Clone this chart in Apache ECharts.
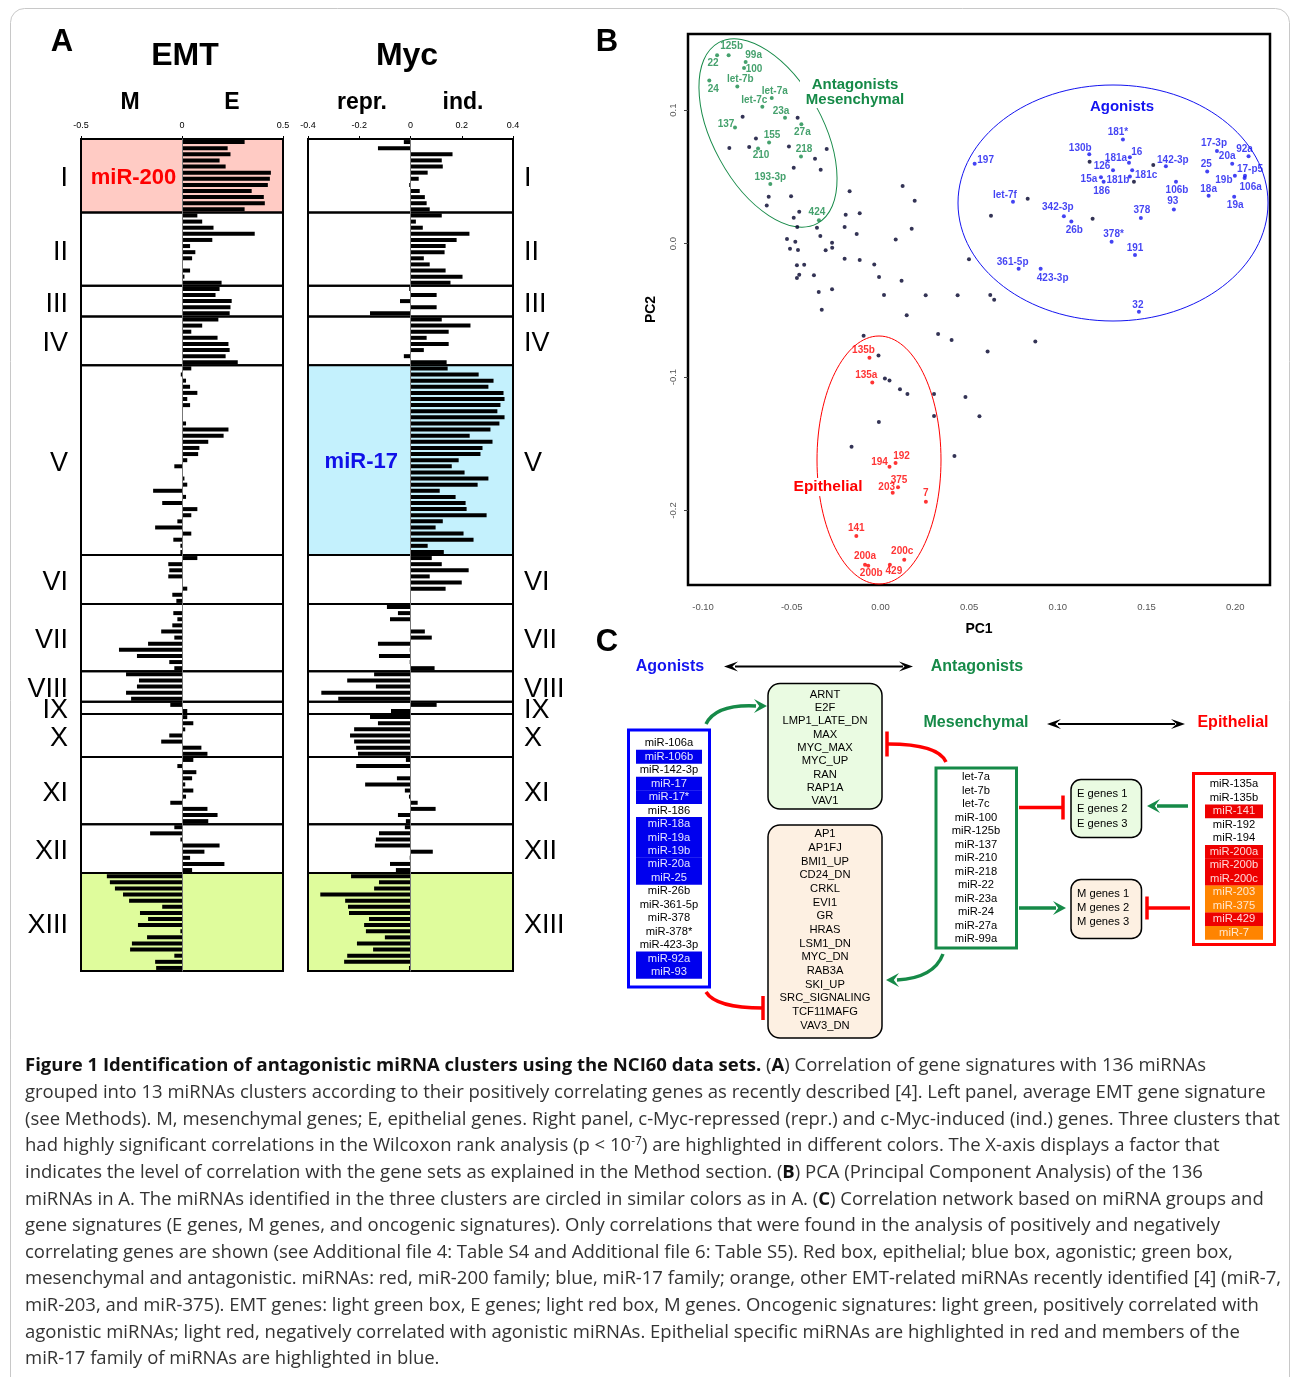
<!DOCTYPE html>
<html>
<head>
<meta charset="utf-8">
<script src="https://cdn.jsdelivr.net/npm/echarts@6/dist/echarts.min.js"></script>
<style>
  html, body { margin: 0; padding: 0; background: #fff; }
  #chart { width: 1290px; height: 1377px; }
</style>
</head>
<body>
<div id="chart"></div>
<script>
// ---- panel A data: 13 clusters, 136 miRNAs ----
const clusterNames = ['I', 'II', 'III', 'IV', 'V', 'VI', 'VII', 'VIII', 'IX', 'X', 'XI', 'XII', 'XIII']
const clusterSizes = [12, 12, 5, 8, 31, 8, 11, 5, 2, 7, 11, 8, 16]

const emtValues = [
  0.31, 0.226, 0.24, 0.186, 0.216, 0.44, 0.435, 0.425, 0.345, 0.405, 0.41, 0.31,
  0.076, 0.10, 0.156, 0.36, 0.15, 0.04, 0.066, 0.05, 0, 0.04, 0.012, 0.196,
  0.186, 0.166, 0.246, 0.24, 0.236,
  0.18, 0.10, 0.046, 0.176, 0.23, 0.236, 0.216, 0.276,
  0.046, -0.006, 0.02, 0.04, 0.076, 0.026, 0.04, 0, 0, 0.02, 0.23, 0.206, 0.13, 0.086, 0.08, 0.026,
  -0.038, 0, 0.012, 0.026, -0.143, 0.02, -0.098, 0.076, 0.046, -0.023, -0.133, 0.046, -0.043, -0.008, -0.008,
  0.076, -0.068, -0.063, -0.068, 0, 0.026, -0.048, -0.028,
  0, -0.043, -0.023, -0.048, -0.103, -0.038, -0.168, -0.312, -0.223, -0.063, -0.038,
  -0.277, -0.213, -0.223, -0.277, -0.252,
  -0.058, 0.026,
  0.026, 0.056, 0.016, -0.063, -0.103, 0.096, 0.126,
  0.056, -0.023, 0.071, 0.05, 0.016, 0.056, 0.02, -0.058, 0.126, 0.176, 0.13,
  -0.038, -0.158, -0.008, 0.186, 0.111, 0.04, 0.21, 0.05,
  -0.372, -0.357, -0.332, -0.292, -0.262, -0.098, -0.208, -0.168, -0.218, -0.008, -0.173, -0.248, -0.257, -0.038, -0.133, -0.128
]

const mycValues = [
  -0.026, -0.127, 0.164, 0.122, 0.126, 0.067, 0.032, -0.005, 0.036, 0.056, 0.063, 0.075,
  0.122, 0.021, 0.048, 0.23, 0.18, 0.137, 0.133, 0.052, 0.075, 0.137, 0.203, 0.156,
  -0.005, 0.102, -0.041, 0.102, -0.158,
  0.122, 0.234, 0.149, 0.063, 0.149, 0.052, -0.026, 0.141,
  0.145, 0.266, 0.324, 0.304, 0.363, 0.367, 0.351, 0.339, 0.367, 0.347, 0.312, 0.231, 0.32, 0.281, 0.273, 0.188,
  0.161, 0.211, 0.304, 0.262, 0.114, 0.176, 0.215, 0.219, 0.297, 0.126, 0.098, 0.207, 0.246, 0.067, 0.13,
  0.083, 0.122, 0.227, 0.075, 0.2, 0.137, 0, 0,
  -0.092, -0.049, -0.08, 0, 0.056, 0.083, -0.127, -0.003, -0.123, -0.003, 0.094,
  -0.142, -0.247, -0.135, -0.348, -0.282,
  0.102, -0.076,
  -0.158, -0.127, -0.22, -0.236, -0.22, -0.212, -0.205,
  -0.018, -0.212, 0.001, -0.053, -0.177, -0.022, -0.006, 0.028, 0.098, -0.049, -0.018,
  -0.022, -0.123, -0.135, -0.139, 0.087, -0.003, -0.08, -0.057,
  -0.232, -0.123, -0.142, -0.352, -0.255, -0.244, -0.24, -0.162, -0.181, -0.174, -0.1, -0.209, -0.146, -0.247, -0.259, -0.006
]

// ---- panel B data: PCA of the 136 miRNAs [PC1, PC2] ----
const pcaOther = [
  [-0.0777, 0.095], [-0.0702, 0.0788], [-0.0852, 0.0715], [-0.074, 0.0723], [-0.0467, 0.0942], [-0.0516, 0.0728],
  [-0.0303, 0.0708], [-0.0369, 0.0635], [-0.0489, 0.0568], [-0.0337, 0.0553], [-0.063, 0.0351], [-0.0504, 0.0354],
  [-0.0641, 0.0286], [-0.0458, 0.0238], [-0.0489, 0.0193], [-0.0469, 0.0124], [-0.0358, 0.0118], [-0.0174, 0.0391],
  [0.0125, 0.0431], [0.0193, 0.0321], [-0.0196, 0.0216], [-0.0117, 0.0228], [-0.0202, 0.0124], [-0.0134, 0.0071],
  [0.0176, 0.0111], [0.0086, 0.0031], [-0.0339, 0.0056], [-0.0527, 0.0034], [-0.048, 0.0013], [-0.0273, 0.0006],
  [-0.0272, -0.0031], [-0.0309, -0.0051], [-0.051, -0.0039], [-0.0465, -0.0049], [-0.0202, -0.0114], [-0.0117, -0.0124],
  [-0.0035, -0.0156], [-0.0471, -0.0163], [-0.043, -0.0159], [-0.0375, -0.0238], [-0.0458, -0.0234], [-0.0471, -0.0258],
  [-0.0008, -0.0251], [0.0119, -0.0279], [-0.0273, -0.0343], [-0.0348, -0.0363], [0.002, -0.0386], [0.0255, -0.0388],
  [0.0435, -0.0388], [-0.0331, -0.0496], [0.0148, -0.0538], [0.0499, -0.0118],
  [0.1179, 0.0613], [0.1538, 0.0588], [0.1429, 0.0463], [0.083, 0.0336], [0.0623, 0.0208], [0.1196, 0.0186],
  [0.0619, -0.0386], [0.0641, -0.0421],
  [-0.0095, -0.069], [0.0325, -0.0678], [0.0401, -0.0723], [0.0873, -0.0733], [0.0604, -0.0808], [-0.0011, -0.0838],
  [0.0025, -0.101], [0.0051, -0.1025], [0.011, -0.1092], [0.0152, -0.1127], [0.0302, -0.1127], [0.0479, -0.115],
  [0.0302, -0.1292], [0.0558, -0.1294], [-0.0009, -0.1337], [-0.0163, -0.1522], [0.0417, -0.1592]
]
const pcaAntagonists = [
  ['22', -0.0921, 0.141], ['125b', -0.0856, 0.141], ['99a', -0.076, 0.136], ['100', -0.0769, 0.1315],
  ['24', -0.0965, 0.1222], ['let-7b', -0.0807, 0.1177], ['let-7a', -0.0613, 0.109], ['let-7c', -0.0666, 0.1025],
  ['23a', -0.0538, 0.0942], ['137', -0.082, 0.087], ['27a', -0.0446, 0.0893], ['155', -0.0628, 0.0758],
  ['210', -0.069, 0.0713], ['218', -0.0448, 0.0653], ['193-3p', -0.0621, 0.0446], ['424', -0.0347, 0.0174]
]
const pcaAgonists = [
  ['197', 0.0531, 0.0598], ['181*', 0.1367, 0.078], ['130b', 0.1177, 0.067], ['16', 0.1406, 0.0646],
  ['181a', 0.1401, 0.0605], ['126', 0.1311, 0.055], ['181c', 0.1419, 0.055], ['142-3p', 0.1609, 0.058],
  ['15a', 0.1243, 0.0496], ['186', 0.1258, 0.0463], ['181b', 0.1406, 0.0503], ['17-3p', 0.1897, 0.0693],
  ['92a', 0.2075, 0.0655], ['20a', 0.1983, 0.0598], ['25', 0.1842, 0.054], ['17-p5', 0.2055, 0.0508],
  ['19b', 0.1998, 0.0508], ['106a', 0.2053, 0.0491], ['106b', 0.1666, 0.0463], ['18a', 0.185, 0.0358],
  ['19a', 0.1994, 0.0351], ['93', 0.1654, 0.0256], ['let-7f', 0.0747, 0.0313], ['342-3p', 0.1034, 0.0204],
  ['26b', 0.1076, 0.0166], ['378', 0.1468, 0.0191], ['378*', 0.1303, 0.0014], ['191', 0.1435, -0.0086],
  ['361-5p', 0.0779, -0.0189], ['423-3p', 0.0903, -0.0189], ['32', 0.1457, -0.0511]
]
const pcaEpithelial = [
  ['135b', -0.0062, -0.0855], ['135a', -0.0046, -0.104], ['192', 0.0085, -0.1644], ['194', 0.0051, -0.1672],
  ['375', 0.0099, -0.1826], ['203', 0.0069, -0.1866], ['7', 0.0256, -0.1934], ['141', -0.0136, -0.2191],
  ['200c', 0.0134, -0.2368], ['200a', -0.0087, -0.2406], ['200b', -0.0069, -0.2413], ['429', 0.0053, -0.2406]
]

// ---- panel C data: network lists ----
const agonistMirs = ['miR-106a', 'miR-106b', 'miR-142-3p', 'miR-17', 'miR-17*', 'miR-186', 'miR-18a', 'miR-19a',
  'miR-19b', 'miR-20a', 'miR-25', 'miR-26b', 'miR-361-5p', 'miR-378', 'miR-378*', 'miR-423-3p', 'miR-92a', 'miR-93']
const mir17Family = ['miR-106b', 'miR-17', 'miR-17*', 'miR-18a', 'miR-19a', 'miR-19b', 'miR-20a', 'miR-25', 'miR-92a', 'miR-93']
const antagonistMirs = ['let-7a', 'let-7b', 'let-7c', 'miR-100', 'miR-125b', 'miR-137', 'miR-210', 'miR-218',
  'miR-22', 'miR-23a', 'miR-24', 'miR-27a', 'miR-99a']
const epithelialMirs = ['miR-135a', 'miR-135b', 'miR-141', 'miR-192', 'miR-194', 'miR-200a', 'miR-200b',
  'miR-200c', 'miR-203', 'miR-375', 'miR-429', 'miR-7']
const mir200Family = ['miR-141', 'miR-200a', 'miR-200b', 'miR-200c', 'miR-429']
const otherEmtMirs = ['miR-203', 'miR-375', 'miR-7']
const positiveSigs = ['ARNT', 'E2F', 'LMP1_LATE_DN', 'MAX', 'MYC_MAX', 'MYC_UP', 'RAN', 'RAP1A', 'VAV1']
const negativeSigs = ['AP1', 'AP1FJ', 'BMI1_UP', 'CD24_DN', 'CRKL', 'EVI1', 'GR', 'HRAS', 'LSM1_DN', 'MYC_DN',
  'RAB3A', 'SKI_UP', 'SRC_SIGNALING', 'TCF11MAFG', 'VAV3_DN']
const eGenes = ['E genes 1', 'E genes 2', 'E genes 3']
const mGenes = ['M genes 1', 'M genes 2', 'M genes 3']

const captionLines = [
  '{b|Figure 1 Identification of antagonistic miRNA clusters using the NCI60 data sets.} ({b|A}) Correlation of gene signatures with 136 miRNAs',
  'grouped into 13 miRNAs clusters according to their positively correlating genes as recently described [4]. Left panel, average EMT gene signature',
  '(see Methods). M, mesenchymal genes; E, epithelial genes. Right panel, c-Myc-repressed (repr.) and c-Myc-induced (ind.) genes. Three clusters that',
  'had highly significant correlations in the Wilcoxon rank analysis (p < 10{sup|-7}) are highlighted in different colors. The X-axis displays a factor that',
  'indicates the level of correlation with the gene sets as explained in the Method section. ({b|B}) PCA (Principal Component Analysis) of the 136',
  'miRNAs in A. The miRNAs identified in the three clusters are circled in similar colors as in A. ({b|C}) Correlation network based on miRNA groups and',
  'gene signatures (E genes, M genes, and oncogenic signatures). Only correlations that were found in the analysis of positively and negatively',
  'correlating genes are shown (see Additional file 4: Table S4 and Additional file 6: Table S5). Red box, epithelial; blue box, agonistic; green box,',
  'mesenchymal and antagonistic. miRNAs: red, miR-200 family; blue, miR-17 family; orange, other EMT-related miRNAs recently identified [4] (miR-7,',
  'miR-203, and miR-375). EMT genes: light green box, E genes; light red box, M genes. Oncogenic signatures: light green, positively correlated with',
  'agonistic miRNAs; light red, negatively correlated with agonistic miRNAs. Epithelial specific miRNAs are highlighted in red and members of the',
  'miR-17 family of miRNAs are highlighted in blue.'
]

// ---- styling ----
const FONT = 'Liberation Sans, Arial, sans-serif'
const GREEN = '#168a48'
const BLUE = '#1414f0'
const RED = '#ff0000'
const PINK_FILL = '#ffcbc4'
const BLUE_FILL = '#c4f1fd'
const LIME_FILL = '#dffc9c'
const CAPTION_SIZE = 18.5

// label placement (pixel offset of label centre from its point)
const labelOffset = {
  '22': [-4, 8], '125b': [3, -9], '99a': [8, -7], '100': [10, 1], '24': [4, 9], 'let-7b': [3, -7],
  'let-7a': [3, -7], 'let-7c': [-8, -6], '23a': [-4, -7], '137': [-9, -3], '27a': [1, 8], '155': [3, -7],
  '210': [3, 7], '218': [3, -7], '193-3p': [0, -7], '424': [-2, -8],
  '197': [11, -3], '181*': [-5, -7], '130b': [-9, -6], '16': [7, -5], '181a': [-13, -5], '126': [-11, -4],
  '181c': [14, 5], '142-3p': [7, -6], '15a': [-12, 2], '186': [-2, 9], '181b': [-12, 4], '17-3p': [-3, -8],
  '92a': [-4, -7], '20a': [-5, -7], '25': [-1, -7], '17-p5': [5, -7], '19b': [-11, 4], '106a': [6, 9],
  '106b': [1, 8], '18a': [0, -7], '19a': [1, 9], '93': [-1, -8], 'let-7f': [-8, -7], '342-3p': [-6, -9],
  '26b': [3, 9], '378': [1, -8], '378*': [2, -7], '191': [0, -7], '361-5p': [-6, -7], '423-3p': [12, 9], '32': [-1, -7],
  '135b': [-6, -7], '135a': [-6, -7], '192': [6, -7], '194': [-10, -4], '375': [1, -7], '203': [-6, -5],
  '7': [0, -8], '141': [0, -8], '200c': [-2, -8], '200a': [0, -8], '200b': [3, 8], '429': [4, 7]
}

const chart = echarts.init(document.getElementById('chart'))

// cluster boundaries from sizes
const bounds = [0]
clusterSizes.forEach(n => bounds.push(bounds[bounds.length - 1] + n))
const catNames = emtValues.map((v, i) => 'm' + (i + 1))

const clusterAreas = (fills, side, inner) => {
  const areas = clusterNames.map((nm, i) => [{
    yAxis: bounds[i],
    itemStyle: { color: fills[nm] || 'rgba(0,0,0,0)', borderColor: '#000', borderWidth: 2 },
    label: { show: true, position: side, distance: side === 'left' ? 12 : 10, offset: [0, 3], formatter: nm,
      color: '#000', fontSize: 27, fontFamily: FONT }
  }, { yAxis: bounds[i + 1] }])
  // highlighted cluster name written inside the left half
  areas.push([{
    xAxis: inner.from, yAxis: bounds[inner.idx],
    itemStyle: { color: 'rgba(0,0,0,0)', borderWidth: 0 },
    label: { show: true, position: 'inside', offset: [2, 2], formatter: inner.text, color: inner.color,
      fontSize: 22, fontWeight: 'bold', fontFamily: FONT }
  }, { xAxis: 0, yAxis: bounds[inner.idx + 1] }])
  return areas
}

const barAxisX = (idx, min, max, interval) => ({
  type: 'value', gridIndex: idx, position: 'top', min, max, interval,
  axisLine: { show: false, onZero: false },
  axisTick: { show: true, length: 3, lineStyle: { color: '#000' } },
  axisLabel: { fontSize: 9, color: '#000', margin: 9, fontFamily: FONT },
  splitLine: { show: false }
})

const pcaSeries = (list, color) => ({
  type: 'scatter', xAxisIndex: 2, yAxisIndex: 4, symbolSize: 4, z: 4,
  itemStyle: { color },
  data: list.map(p => {
    const off = labelOffset[p[0]] || [0, -7]
    return { name: p[0], value: [p[1], p[2]], label: { position: [2 + off[0], 2 + off[1]] } }
  }),
  label: { show: true, formatter: '{b}', color, fontSize: 10, fontWeight: 'bold', fontFamily: FONT,
    align: 'center', verticalAlign: 'middle' }
})

// ---- graphic helpers for titles and the network ----
const gfx = []
const text = (x, y, s, o = {}) => gfx.push({
  type: 'text', x, y, z: 20,
  style: Object.assign({ text: s, fill: '#000', fontFamily: FONT, fontSize: 12, fontWeight: 'normal',
    align: 'center', verticalAlign: 'middle', textAlign: 'center', textVerticalAlign: 'middle' }, o)
})
const rect = (x, y, w, h, o = {}) => gfx.push({ type: 'rect', z: 10, shape: { x, y, width: w, height: h, r: o.r || 0 },
  style: { fill: o.fill || 'none', stroke: o.stroke || 'none', lineWidth: o.lw || 0 } })
const line = (x1, y1, x2, y2, color, lw) => gfx.push({ type: 'line', z: 12, shape: { x1, y1, x2, y2 },
  style: { stroke: color, lineWidth: lw } })
const curve = (x1, y1, cx, cy, x2, y2, color, lw) => gfx.push({ type: 'bezierCurve', z: 12,
  shape: { x1, y1, x2, y2, cpx1: cx, cpy1: cy }, style: { stroke: color, lineWidth: lw, fill: 'none' } })
const head = (tx, ty, dx, dy, color, len = 14, hw = 7) => {
  const nx = -dy, ny = dx
  gfx.push({ type: 'polygon', z: 12, shape: { points: [
    [tx, ty],
    [tx - dx * len + nx * hw, ty - dy * len + ny * hw],
    [tx - dx * len * 0.6, ty - dy * len * 0.6],
    [tx - dx * len - nx * hw, ty - dy * len - ny * hw]
  ] }, style: { fill: color } })
}
const tbar = (x, y, half, color) => line(x, y - half, x, y + half, color, 3.5)

// figure frame
rect(10.5, 8.5, 1279, 1400, { stroke: '#c8c8c8', lw: 1, r: 14 })

// panel letters and titles
const bold = (x, y, s, size, color) => text(x, y, s, { fontSize: size, fontWeight: 'bold', fill: color || '#000' })
bold(62, 42, 'A', 31); bold(607, 42, 'B', 31); bold(607, 642, 'C', 31)
bold(185, 56, 'EMT', 32); bold(407, 56, 'Myc', 32)
bold(130, 103, 'M', 23); bold(232, 103, 'E', 23); bold(362, 103, 'repr.', 23); bold(463, 103, 'ind.', 23)

// panel B cluster ellipses and names
gfx.push({ type: 'ellipse', z: 3, x: 768, y: 133, rotation: 0.5, shape: { cx: 0, cy: 0, rx: 55, ry: 103 },
  style: { fill: 'none', stroke: GREEN, lineWidth: 1 } })
gfx.push({ type: 'ellipse', z: 3, x: 1113, y: 203, shape: { cx: 0, cy: 0, rx: 155, ry: 118 },
  style: { fill: 'none', stroke: BLUE, lineWidth: 1 } })
gfx.push({ type: 'ellipse', z: 3, x: 879, y: 460, shape: { cx: 0, cy: 0, rx: 62, ry: 124 },
  style: { fill: 'none', stroke: RED, lineWidth: 1 } })
rect(800, 76, 112, 32, { fill: '#fff' })
bold(855, 85, 'Antagonists', 15, GREEN); bold(855, 100, 'Mesenchymal', 15, GREEN)
bold(1122, 107, 'Agonists', 15, BLUE)
rect(790, 478, 75, 18, { fill: '#fff' })
bold(828, 487, 'Epithelial', 15.5, RED)

// panel C headers and double arrows
bold(670, 667, 'Agonists', 16, BLUE); bold(977, 667, 'Antagonists', 16, GREEN)
bold(976, 723, 'Mesenchymal', 16, GREEN); bold(1233, 723, 'Epithelial', 16, RED)
line(735, 666.5, 903, 666.5, '#000', 2); head(913, 666.5, 1, 0, '#000', 14, 5); head(724, 666.5, -1, 0, '#000', 14, 5)
line(1058, 724, 1175, 724, '#000', 2); head(1185, 724, 1, 0, '#000', 14, 5); head(1047, 724, -1, 0, '#000', 14, 5)

const listFont = { fontSize: 11.2 }
// agonist box (blue)
rect(628.5, 730, 81, 257, { stroke: '#0000ff', lw: 3, fill: '#fff' })
agonistMirs.forEach((m, i) => {
  const y = 743.3 + i * 13.45
  const hi = mir17Family.includes(m)
  if (hi) rect(636, y - 6.9, 66, 13.8, { fill: '#0000ee' })
  text(669, y, m, Object.assign({ fill: hi ? '#e4e4ff' : '#000' }, listFont))
})
// antagonist box (green)
rect(936, 768, 80.5, 180, { stroke: GREEN, lw: 3, fill: '#fff' })
antagonistMirs.forEach((m, i) => text(976, 777 + i * 13.5, m, listFont))
// epithelial box (red)
rect(1193.5, 773.5, 81, 171, { stroke: RED, lw: 3, fill: '#fff' })
epithelialMirs.forEach((m, i) => {
  const y = 784.3 + i * 13.5
  const red = mir200Family.includes(m), org = otherEmtMirs.includes(m)
  if (red || org) rect(1205, y - 6.9, 58, 13.8, { fill: red ? '#ee0000' : '#ff8400' })
  text(1234, y, m, Object.assign({ fill: red ? '#ffd6d6' : org ? '#ffe6cc' : '#000' }, listFont))
})
// oncogenic signature boxes
rect(768, 683.5, 114, 125.5, { stroke: '#000', lw: 1.5, fill: '#eafbe2', r: 12 })
positiveSigs.forEach((s, i) => text(825, 694.7 + i * 13.3, s, listFont))
rect(768, 825, 114, 213, { stroke: '#000', lw: 1.5, fill: '#fdf0e2', r: 12 })
negativeSigs.forEach((s, i) => text(825, 834.3 + i * 13.67, s, listFont))
// EMT gene boxes
rect(1071, 779.5, 70.5, 58, { stroke: '#000', lw: 1.5, fill: '#eafbe2', r: 10 })
eGenes.forEach((s, i) => text(1077, 794.3 + i * 14.8, s, Object.assign({ align: 'left', textAlign: 'left' }, listFont)))
rect(1071, 879.5, 70.5, 59, { stroke: '#000', lw: 1.5, fill: '#fdf0e2', r: 10 })
mGenes.forEach((s, i) => text(1077, 893.5 + i * 14, s, Object.assign({ align: 'left', textAlign: 'left' }, listFont)))

// connectors
curve(706, 724, 716, 704, 756, 706, GREEN, 3.5); head(767, 706, 1, 0, GREEN, 13, 7)
curve(946, 762, 938, 744, 888, 744, RED, 3.5); tbar(887, 744, 12.5, RED)
curve(706, 992, 716, 1008, 763, 1008, RED, 3.5); tbar(763, 1008, 12, RED)
curve(943, 954, 934, 978, 897, 980, GREEN, 3.5); head(886, 980, -1, 0, GREEN, 13, 7)
line(1019, 807.5, 1063, 807.5, RED, 3.5); tbar(1063, 807.5, 12, RED)
line(1188, 806, 1157, 806, GREEN, 3.5); head(1147, 806, -1, 0, GREEN, 13, 7)
line(1019, 908, 1056, 908, GREEN, 3.5); head(1066, 908, 1, 0, GREEN, 13, 7)
line(1190, 908, 1147, 908, RED, 3.5); tbar(1147, 908, 11.5, RED)

// caption
captionLines.forEach((s, i) => gfx.push({
  type: 'text', x: 25, y: 1066 + i * 26.65, z: 20,
  style: { text: s, fill: '#333', fontFamily: 'Open Sans', fontSize: CAPTION_SIZE, fontWeight: 'normal',
    align: 'left', verticalAlign: 'middle', textAlign: 'left', textVerticalAlign: 'middle',
    rich: {
      b: { fill: '#111', fontFamily: 'Open Sans', fontSize: CAPTION_SIZE, fontWeight: 'bold' },
      sup: { fill: '#333', fontFamily: 'Open Sans', fontSize: 12, verticalAlign: 'top', lineHeight: 21 }
    } }
}))

const option = {
  animation: false,
  backgroundColor: '#fff',
  grid: [
    { left: 81, top: 139, width: 202, height: 832, show: true, borderColor: '#000', borderWidth: 2, outerBoundsMode: 'none' },
    { left: 308, top: 139, width: 205, height: 832, show: true, borderColor: '#000', borderWidth: 2, outerBoundsMode: 'none' },
    { left: 688, top: 34, width: 582, height: 551, show: true, borderColor: '#000', borderWidth: 2.5, outerBoundsMode: 'none' }
  ],
  xAxis: [
    barAxisX(0, -0.5, 0.5, 0.5),
    barAxisX(1, -0.4, 0.4, 0.2),
    {
      type: 'value', gridIndex: 2, min: -0.1085, max: 0.2196, splitNumber: 6,
      axisLine: { show: false, onZero: false },
      axisTick: { show: false },
      axisLabel: { color: '#555', fontSize: 9.5, fontFamily: FONT, margin: 17, showMinLabel: false, showMaxLabel: false,
        formatter: v => v.toFixed(2) },
      splitLine: { show: false },
      name: 'PC1', nameLocation: 'middle', nameGap: 37,
      nameTextStyle: { fontSize: 14, fontWeight: 'bold', color: '#000', fontFamily: FONT }
    }
  ],
  yAxis: [
    { type: 'category', gridIndex: 0, data: catNames, inverse: true, z: 6,
      axisLine: { show: true, onZero: true, lineStyle: { color: '#777', width: 1 } },
      axisTick: { show: false }, axisLabel: { show: false } },
    { type: 'value', gridIndex: 0, min: 0, max: 136, inverse: true, show: false },
    { type: 'category', gridIndex: 1, data: catNames, inverse: true, z: 6,
      axisLine: { show: true, onZero: true, lineStyle: { color: '#777', width: 1 } },
      axisTick: { show: false }, axisLabel: { show: false } },
    { type: 'value', gridIndex: 1, min: 0, max: 136, inverse: true, show: false },
    {
      type: 'value', gridIndex: 2, min: -0.2558, max: 0.157, splitNumber: 4,
      axisLine: { show: false, onZero: false },
      axisTick: { show: true, length: 4, lineStyle: { color: '#444' } },
      axisLabel: { color: '#555', fontSize: 9.5, fontFamily: FONT, margin: 10, rotate: 90,
        showMinLabel: false, showMaxLabel: false, formatter: v => v.toFixed(1) },
      splitLine: { show: false },
      name: 'PC2', nameLocation: 'middle', nameGap: 30,
      nameTextStyle: { fontSize: 14, fontWeight: 'bold', color: '#000', fontFamily: FONT }
    }
  ],
  series: [
    { type: 'scatter', xAxisIndex: 0, yAxisIndex: 1, data: [], z: 1, silent: true,
      markArea: { silent: true, data: clusterAreas({ I: PINK_FILL, XIII: LIME_FILL }, 'left',
        { idx: 0, from: -0.5, text: 'miR-200', color: RED }) } },
    { type: 'scatter', xAxisIndex: 1, yAxisIndex: 3, data: [], z: 1, silent: true,
      markArea: { silent: true, data: clusterAreas({ V: BLUE_FILL, XIII: LIME_FILL }, 'right',
        { idx: 4, from: -0.4, text: 'miR-17', color: '#1010e8' }) } },
    { type: 'bar', xAxisIndex: 0, yAxisIndex: 0, data: emtValues, barWidth: 4, z: 3, silent: true,
      itemStyle: { color: '#000' } },
    { type: 'bar', xAxisIndex: 1, yAxisIndex: 2, data: mycValues, barWidth: 4, z: 3, silent: true,
      itemStyle: { color: '#000' } },
    { type: 'scatter', xAxisIndex: 2, yAxisIndex: 4, symbolSize: 4, z: 4, silent: true,
      itemStyle: { color: '#00002a' }, data: pcaOther },
    pcaSeries(pcaAntagonists, GREEN),
    pcaSeries(pcaAgonists, BLUE),
    pcaSeries(pcaEpithelial, RED)
  ],
  graphic: gfx
}

chart.setOption(option)
</script>
</body>
</html>
